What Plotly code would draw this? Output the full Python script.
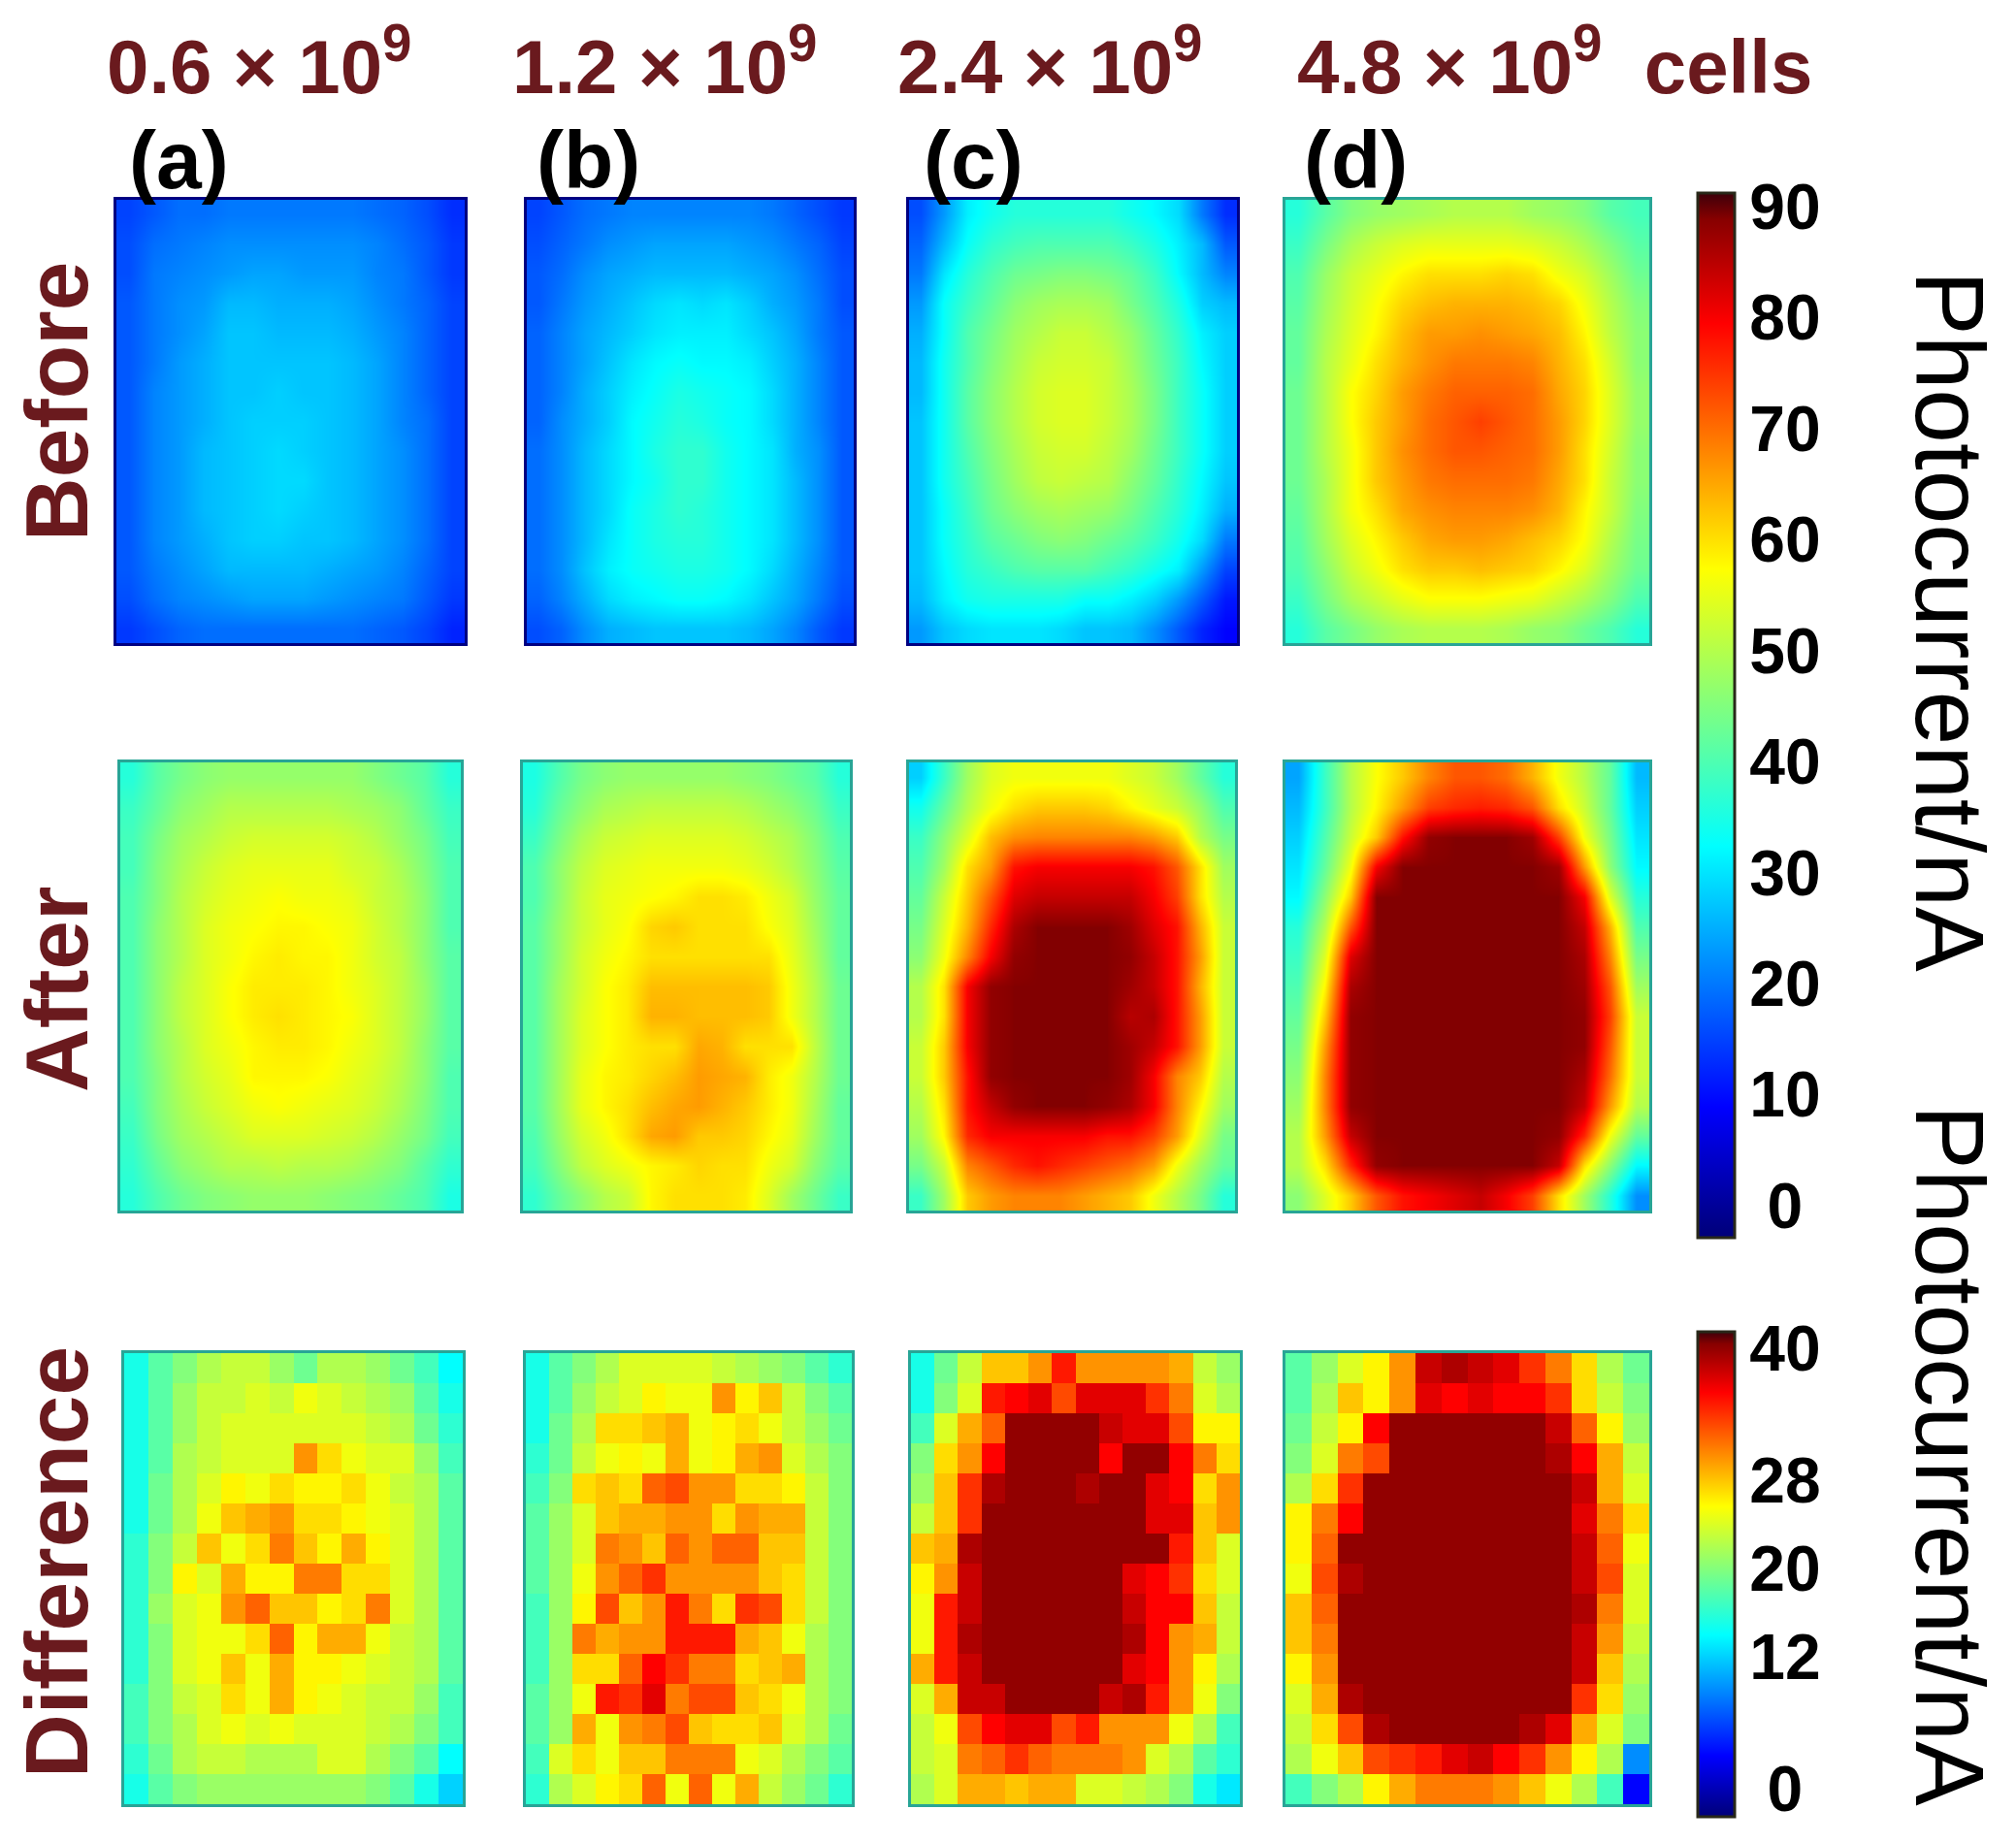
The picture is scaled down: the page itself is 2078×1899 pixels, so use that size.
import plotly.graph_objects as go

W, H = 2078, 1899

before_a = [
[15,17,19,19,20,20,20,20,20,20,19,18,16,13],
[16,19,20,21,22,22,22,22,22,22,21,19,17,14],
[16,20,21,22,23,24,24,23,23,23,21,20,17,14],
[17,20,22,23,26,26,25,25,25,24,22,20,18,15],
[17,20,22,24,27,27,26,26,26,25,23,21,18,15],
[17,20,23,25,27,27,27,27,27,26,24,21,18,15],
[17,21,23,25,27,27,28,27,27,26,24,21,18,15],
[17,21,23,25,27,28,28,28,27,26,24,21,19,15],
[17,21,23,26,27,28,29,28,27,26,24,22,19,15],
[17,21,23,26,27,28,29,29,27,26,24,22,19,15],
[17,21,23,26,27,28,29,28,27,26,24,22,19,15],
[17,21,23,25,27,28,28,27,27,26,24,22,19,15],
[17,20,22,24,26,26,26,26,25,24,23,21,18,15],
[16,19,21,22,23,24,24,24,23,22,21,20,17,14],
[14,16,18,19,19,19,19,19,19,19,18,17,15,12],
]
before_b = [
[15,17,19,20,21,21,21,21,21,21,20,18,16,14],
[16,18,20,22,23,24,24,24,24,23,22,20,18,15],
[17,19,22,24,25,26,26,26,26,25,24,22,19,16],
[17,20,23,25,27,29,30,29,30,28,25,23,20,16],
[18,21,24,26,28,30,31,31,31,29,27,24,20,17],
[18,21,24,27,30,32,33,32,32,31,28,25,21,17],
[18,21,25,28,31,33,35,34,33,32,29,25,21,17],
[18,22,25,28,32,34,36,35,33,32,29,25,21,17],
[19,22,26,29,32,35,37,37,34,32,30,25,22,17],
[19,22,26,29,32,34,37,37,34,32,30,26,22,17],
[19,22,26,29,33,35,37,36,34,32,30,26,22,17],
[19,22,26,30,33,35,36,36,34,32,30,26,22,17],
[19,22,27,31,33,34,35,35,34,32,29,25,21,17],
[18,21,25,29,31,32,33,33,32,30,27,24,20,16],
[16,18,22,25,26,27,27,27,27,26,24,21,17,14],
]
before_c = [
[16,23,31,34,36,36,36,36,36,34,32,29,20,13],
[18,26,33,37,39,40,40,40,40,38,35,31,26,17],
[20,30,36,40,43,44,45,45,44,42,38,32,26,21],
[23,33,38,42,46,48,49,49,48,44,40,35,28,26],
[25,33,40,44,48,50,52,52,50,47,42,37,31,28],
[26,34,40,45,49,52,53,53,52,48,43,38,32,28],
[26,34,41,46,50,53,54,54,52,49,44,38,33,28],
[27,34,41,46,50,53,54,54,52,49,44,38,33,28],
[27,34,40,45,49,52,53,53,51,48,43,38,33,28],
[27,34,39,44,48,51,52,51,50,46,42,37,32,27],
[27,33,38,43,46,48,49,48,47,44,40,36,31,25],
[27,33,37,41,43,45,46,45,43,41,38,34,29,20],
[27,32,36,38,40,41,41,41,39,37,34,31,23,15],
[26,31,34,35,35,35,35,33,33,31,28,23,17,11],
[23,27,29,30,30,30,29,27,27,26,22,17,12,9],
]
before_d = [
[36,41,45,47,48,49,50,50,50,48,47,45,41,39],
[38,44,49,52,54,55,55,55,55,54,52,49,45,41],
[40,47,52,55,58,60,60,60,61,60,56,53,48,43],
[41,48,53,57,61,63,64,64,64,63,61,56,50,45],
[42,49,54,58,63,66,66,67,66,65,63,58,51,46],
[42,50,55,60,64,67,69,69,69,68,64,60,53,46],
[43,50,57,61,66,69,71,71,71,70,65,61,54,47],
[43,50,57,62,66,70,72,74,72,70,66,61,54,47],
[43,50,56,62,67,70,72,72,71,70,66,60,53,46],
[43,49,56,62,66,69,70,70,70,69,65,60,52,46],
[42,49,56,60,65,67,68,68,68,67,64,58,52,45],
[41,48,54,58,62,65,66,66,65,63,61,57,50,44],
[40,46,52,56,60,62,62,63,62,61,58,54,48,43],
[38,44,49,52,55,57,57,57,56,55,52,49,45,40],
[36,41,44,47,49,50,50,50,49,47,46,43,40,36],
]
after_a = [
[36,41,44,46,47,47,47,47,47,47,45,43,41,36],
[38,42,46,48,50,50,50,50,50,49,48,46,42,38],
[39,44,48,50,52,53,53,53,53,52,50,47,44,39],
[39,45,49,52,54,55,55,55,55,53,52,49,45,40],
[40,45,50,53,55,56,57,56,56,55,52,50,46,40],
[40,46,50,54,56,57,58,58,57,56,53,50,46,40],
[40,46,50,54,56,58,59,58,58,56,53,51,46,41],
[40,46,51,54,57,59,59,59,58,56,54,51,47,41],
[40,46,51,54,57,59,60,59,58,57,54,51,47,41],
[40,46,50,54,56,58,59,59,58,56,54,51,46,41],
[40,45,50,53,55,58,58,58,57,55,53,50,46,40],
[39,45,49,52,54,56,57,56,55,54,52,49,45,40],
[38,44,48,50,52,54,54,54,53,52,50,47,44,39],
[37,42,46,48,50,50,51,50,50,49,47,45,41,37],
[36,40,43,45,46,47,47,47,46,45,44,42,40,35],
]
after_b = [
[35,40,44,46,47,47,47,47,47,46,45,43,41,36],
[36,42,46,49,50,51,51,51,51,50,48,46,43,38],
[38,44,49,52,53,54,54,54,54,53,51,49,45,40],
[40,46,51,54,55,56,56,56,56,55,53,50,46,41],
[40,46,52,55,56,57,58,60,60,59,56,53,47,42],
[41,47,52,55,57,61,62,60,60,60,57,54,48,42],
[41,47,53,56,58,60,60,60,60,60,60,55,49,42],
[41,48,53,57,59,63,63,63,63,63,62,56,50,43],
[41,48,54,57,59,64,64,63,63,63,62,56,50,43],
[41,48,54,57,59,60,60,65,64,60,60,60,51,43],
[41,48,55,58,59,61,63,66,65,64,59,56,50,43],
[41,48,55,58,60,63,65,66,64,62,59,56,49,42],
[40,47,53,56,60,65,66,62,62,61,58,55,48,42],
[39,45,51,54,56,58,59,61,60,60,56,53,46,41],
[37,42,46,50,52,58,60,60,60,59,54,48,43,38],
]
after_c = [
[28,38,48,54,56,56,56,56,56,54,52,48,42,36],
[34,42,50,56,60,62,62,62,61,58,55,52,47,40],
[38,46,54,63,67,68,68,68,68,68,66,62,50,44],
[40,48,60,66,78,80,80,80,80,80,78,72,60,48],
[42,52,62,72,82,84,84,84,84,84,80,74,60,50],
[44,54,64,76,86,89,89,89,89,87,82,78,64,52],
[46,56,68,80,88,89,89,89,89,88,84,78,66,52],
[50,60,80,88,89,89,89,89,89,87,84,78,64,52],
[50,60,80,88,89,89,89,89,89,85,86,78,66,52],
[52,62,80,88,89,89,89,89,89,87,84,78,66,52],
[52,62,78,88,89,89,89,89,89,87,80,68,62,50],
[50,60,78,84,88,89,89,89,88,86,80,68,58,48],
[48,58,76,80,80,80,80,80,78,78,74,66,54,44],
[44,52,68,72,76,78,76,74,72,70,66,56,48,42],
[38,48,62,66,68,68,68,66,64,62,56,50,44,36],
]
after_d = [
[24,38,50,57,62,68,72,72,70,64,56,50,42,26],
[26,38,50,58,66,74,76,77,76,72,60,52,42,28],
[28,40,52,62,78,88,89,89,89,87,74,56,44,30],
[30,42,56,80,89,89,89,89,89,89,87,66,46,32],
[32,46,62,89,89,89,89,89,89,89,89,80,54,36],
[36,50,72,89,89,89,89,89,89,89,89,84,64,40],
[38,54,82,89,89,89,89,89,89,89,89,86,68,44],
[40,58,86,89,89,89,89,89,89,89,89,87,72,48],
[42,62,88,89,89,89,89,89,89,89,89,88,74,52],
[44,66,88,89,89,89,89,89,89,89,89,88,72,52],
[46,68,88,89,89,89,89,89,89,89,89,86,70,52],
[48,68,88,89,89,89,89,89,89,89,89,84,66,50],
[50,66,84,89,89,89,89,89,89,89,88,76,56,42],
[50,60,76,88,89,89,89,89,89,89,84,60,46,32],
[46,54,62,72,78,80,82,84,80,74,60,48,36,22],
]
diff_a = [
[15,18,20,22,23,23,21,19,22,22,21,19,17,14],
[15,18,21,23,23,24,23,25,24,23,22,21,18,15],
[15,18,21,23,24,24,24,24,24,24,23,22,19,16],
[15,18,22,23,24,24,24,30,27,25,24,24,21,17],
[15,19,22,24,26,25,27,26,26,27,25,23,22,18],
[15,19,22,25,28,29,30,27,27,26,25,24,22,18],
[16,20,23,28,25,27,31,28,26,29,26,24,22,18],
[16,20,26,24,29,26,26,31,31,27,27,24,22,18],
[16,21,24,25,30,32,28,28,26,27,31,24,22,18],
[16,20,24,25,25,27,32,26,29,29,25,23,22,18],
[16,20,24,25,28,25,29,26,26,25,24,23,22,18],
[17,20,23,24,27,25,29,26,25,24,23,23,21,17],
[17,20,22,24,25,24,25,24,24,24,23,22,20,17],
[16,19,22,23,23,22,22,22,24,24,22,20,18,14],
[15,18,20,21,21,21,21,21,21,21,20,18,15,12],
]
diff_b = [
[15,18,20,22,24,24,24,24,23,22,21,20,18,16],
[15,18,21,23,24,26,25,25,30,26,28,23,20,18],
[15,19,22,27,27,28,29,25,26,27,25,23,21,19],
[16,19,23,25,26,25,29,25,26,29,30,24,22,20],
[17,20,27,28,27,32,33,30,30,27,27,26,23,20],
[18,21,24,28,29,29,30,30,27,30,29,29,23,20],
[18,21,24,31,30,28,32,30,32,32,28,28,23,20],
[18,21,25,30,32,34,30,30,30,30,28,27,23,20],
[17,21,26,33,28,30,35,31,27,34,33,27,23,20],
[17,21,31,29,30,30,35,35,35,29,28,25,22,20],
[17,21,27,27,32,36,34,31,31,27,28,29,22,20],
[18,21,25,35,34,37,31,33,33,28,27,25,22,20],
[18,21,29,25,30,31,33,28,27,27,28,24,22,19],
[17,24,27,25,28,28,31,31,31,25,24,22,20,18],
[16,22,24,26,27,32,25,32,25,29,23,21,19,16],
]
diff_c = [
[15,19,23,28,28,30,35,30,30,30,30,29,23,21],
[15,20,24,35,36,37,33,37,37,37,34,31,24,22],
[17,24,29,32,40,40,40,40,38,37,37,33,26,26],
[20,27,30,36,40,40,40,40,36,40,40,36,31,27],
[21,28,34,39,40,40,40,39,40,40,37,36,27,30],
[23,28,34,40,40,40,40,40,40,40,37,37,28,30],
[28,29,39,40,40,40,40,40,40,40,40,35,28,24],
[26,30,38,40,40,40,40,40,40,37,36,34,27,24],
[25,35,38,40,40,40,40,40,40,38,36,36,28,23],
[25,35,39,40,40,40,40,40,40,39,36,30,29,23],
[29,35,38,40,40,40,40,40,40,37,36,30,26,22],
[24,29,38,38,40,40,40,40,38,39,35,30,25,20],
[23,25,33,36,37,37,33,35,30,30,30,25,22,17],
[23,24,31,32,34,32,31,31,31,30,24,22,18,16],
[22,24,29,29,28,29,29,24,24,23,22,20,15,13],
]
diff_d = [
[18,21,24,26,30,38,39,38,37,34,31,27,22,19],
[18,22,28,26,30,37,36,37,36,36,34,27,23,20],
[19,23,26,36,40,40,40,40,40,40,38,32,26,21],
[20,24,31,33,40,40,40,40,40,40,39,36,29,23],
[22,27,34,40,40,40,40,40,40,40,40,38,29,24],
[26,31,36,40,40,40,40,40,40,40,40,37,31,27],
[26,32,40,40,40,40,40,40,40,40,40,38,32,25],
[25,33,39,40,40,40,40,40,40,40,40,38,33,24],
[28,32,40,40,40,40,40,40,40,40,40,39,31,24],
[28,31,40,40,40,40,40,40,40,40,40,38,30,23],
[26,30,40,40,40,40,40,40,40,40,40,38,28,22],
[24,29,39,40,40,40,40,40,40,40,40,34,27,21],
[23,27,33,39,40,40,40,40,40,39,37,29,24,20],
[22,25,28,33,34,35,37,38,36,34,30,26,22,9],
[17,20,22,26,29,31,31,31,30,28,25,22,17,3],
]

top_ticks = [0, 10, 20, 30, 40, 50, 60, 70, 80, 90]
bottom_ticks = [0, 12, 20, 28, 40]
column_titles = ["0.6 × 10<sup>9</sup>", "1.2 × 10<sup>9</sup>", "2.4 × 10<sup>9</sup>", "4.8 × 10<sup>9</sup>  cells"]
panel_letters = ["(a)", "(b)", "(c)", "(d)"]
row_titles = ["Before", "After", "Difference"]

JET = [[0, "rgb(0,0,120)"], [0.125, "rgb(0,0,255)"], [0.375, "rgb(0,255,255)"],
       [0.64, "rgb(255,255,0)"], [0.875, "rgb(255,0,0)"], [0.975, "rgb(135,0,0)"], [1, "rgb(60,0,10)"]]
MAROON = "#6a1a1e"
SANS = "Liberation Sans"
NAVY = "rgb(0,0,130)"
TEAL = "rgb(40,165,150)"

# (x0, x1, y0, y1) in page pixels
panels = [
    (before_a, "coloraxis", False, 118, 481, 204, 665, NAVY),
    (before_b, "coloraxis", False, 541, 882, 204, 665, NAVY),
    (before_c, "coloraxis", False, 935, 1277, 204, 665, NAVY),
    (before_d, "coloraxis", False, 1323, 1702, 204, 665, TEAL),
    (after_a, "coloraxis", False, 122, 477, 784, 1250, TEAL),
    (after_b, "coloraxis", False, 537, 878, 784, 1250, TEAL),
    (after_c, "coloraxis", False, 935, 1275, 784, 1250, TEAL),
    (after_d, "coloraxis", False, 1323, 1702, 784, 1250, TEAL),
    (diff_a, "coloraxis2", True, 126, 479, 1393, 1862, TEAL),
    (diff_b, "coloraxis2", True, 540, 880, 1393, 1862, TEAL),
    (diff_c, "coloraxis2", True, 937, 1280, 1393, 1862, TEAL),
    (diff_d, "coloraxis2", True, 1323, 1702, 1393, 1862, TEAL),
]
INSET = 2

fig = go.Figure()
layout = {}
for i, (z, ca, blocky, x0, x1, y0, y1, edge) in enumerate(panels, start=1):
    fig.add_trace(go.Heatmap(z=z, coloraxis=ca, xaxis=f"x{i}", yaxis=f"y{i}",
                             zsmooth=False if blocky else "best", hoverinfo="skip"))
    nrows, ncols = len(z), len(z[0])
    layout[f"xaxis{i}"] = dict(domain=[(x0 + INSET) / W, (x1 - INSET) / W], range=[-0.5, ncols - 0.5], anchor=f"y{i}",
                               showticklabels=False, ticks="", showgrid=False, zeroline=False,
                               showline=True, mirror=True, linecolor=edge, linewidth=3)
    layout[f"yaxis{i}"] = dict(domain=[1 - (y1 - INSET) / H, 1 - (y0 + INSET) / H], range=[nrows - 0.5, -0.5], anchor=f"x{i}",
                               showticklabels=False, ticks="", showgrid=False, zeroline=False,
                               showline=True, mirror=True, linecolor=edge, linewidth=3)


def note(text, px, py, size, color, xanchor="left", yanchor="middle", angle=0, bold=False):
    return dict(text=f"<b>{text}</b>" if bold else text, x=px / W, y=1 - py / H, xref="paper", yref="paper",
                xanchor=xanchor, yanchor=yanchor, showarrow=False, textangle=angle,
                font=dict(size=size, color=color, family=SANS))


notes = []
for text, px in zip(column_titles, [108, 526, 923, 1335]):
    notes.append(note(text, px, 64, 78, MAROON, bold=True))
for text, px in zip(panel_letters, [131, 551, 950, 1342]):
    notes.append(note(text, px, 165, 84, "black", bold=True))
for text, py in zip(row_titles, [414, 1020, 1611]):
    notes.append(note(text, 58, py, 91, MAROON, xanchor="center", angle=-90, bold=True))
notes.append(note("Photocurrent/nA", 2010, 640, 100, "black", xanchor="center", angle=90))
notes.append(note("Photocurrent/nA", 2010, 1500, 100, "black", xanchor="center", angle=90))


def bar(ticks, ypx0, ypx1):
    return dict(x=1750 / W, xanchor="left", thicknessmode="pixels", thickness=38,
                lenmode="fraction", len=(ypx1 - ypx0) / H, y=1 - ypx1 / H, yanchor="bottom",
                xpad=0, ypad=0, outlinecolor="rgb(40,40,25)", outlinewidth=3,
                tickmode="array", tickvals=ticks,
                ticktext=["\u00a0" + str(t) if t == 0 else str(t) for t in ticks],
                ticks="", ticklen=0,
                tickfont=dict(size=66, color="black", family=SANS, weight=700))


fig.update_layout(
    width=W, height=H, margin=dict(l=0, r=0, t=0, b=0), paper_bgcolor="white", plot_bgcolor="white",
    showlegend=False, annotations=notes,
    coloraxis=dict(colorscale=JET, cmin=-2.9, cmax=91.2, colorbar=bar(top_ticks, 199, 1276)),
    coloraxis2=dict(colorscale=JET, cmin=-2.6, cmax=41.5, colorbar=bar(bottom_ticks, 1373, 1873)),
    **layout,
)
fig.write_html("out.html", post_script="document.body.style.margin='0';", config={"displayModeBar": False})
